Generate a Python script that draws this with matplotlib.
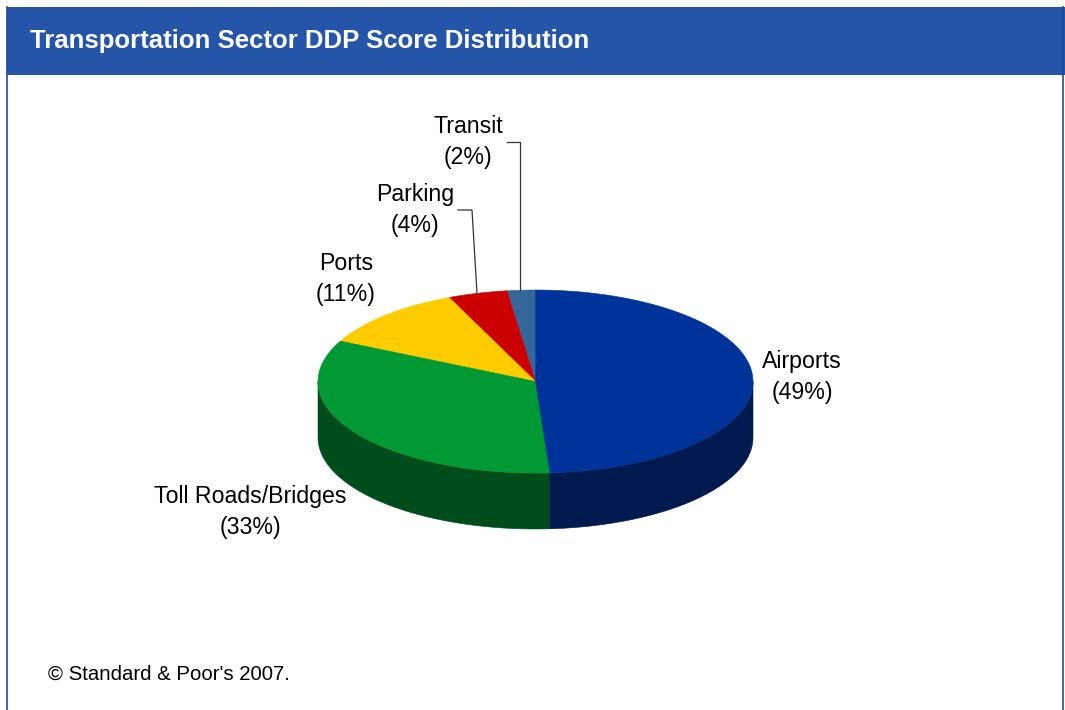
import numpy as np
import matplotlib
matplotlib.use("Agg")
import matplotlib.pyplot as plt
from matplotlib.patches import Polygon, Rectangle

# data, in drawing order: counter-clockwise from 12 o'clock
# (shares; labels show the rounded value)
sectors = ["Transit", "Parking", "Ports", "Toll Roads/Bridges", "Airports"]
shares = [2.1, 4.4, 11.2, 33.3, 48.9]
top_colors = ["#336699", "#CC0000", "#FFCC00", "#009933", "#003399"]
side_colors = ["#1f3d5c", "#7a0000", "#997a00", "#004C1A", "#001A4F"]

plt.rcParams["font.family"] = ["Liberation Sans", "DejaVu Sans"]

W, H = 1065, 710
fig = plt.figure(figsize=(W / 100, H / 100), dpi=100)
ax = fig.add_axes([0, 0, 1, 1])
ax.set_xlim(0, W)
ax.set_ylim(H, 0)
ax.axis("off")

# frame + header band
ax.add_patch(Rectangle((7, 7), W - 7, 68, facecolor="#2455A8", edgecolor="none"))
ax.plot([7, 7], [7, H], color="#1f4a9a", lw=1.2)
ax.plot([1063, 1063], [7, H], color="#1f4a9a", lw=1.2)
ax.text(30, 41, "Transportation Sector DDP Score Distribution", color="white",
        fontsize=18.5, fontweight="bold", va="center", ha="left")
ax.text(48, 674, "\u00a9 Standard & Poor's 2007.", fontsize=14.7, va="center", ha="left")

# pseudo 3D pie geometry (pixels)
cx, cy, a, b, depth = 535.5, 381.5, 217.5, 91.5, 56


def pt(t, dy=0):
    return cx - a * np.sin(t), cy - b * np.cos(t) + dy


bounds = np.concatenate([[0], np.cumsum(shares)]) / np.sum(shares) * 2 * np.pi

# side walls (only the front half, t in [pi/2, 3pi/2])
for i in range(len(shares)):
    t1, t2 = max(bounds[i], np.pi / 2), min(bounds[i + 1], 3 * np.pi / 2)
    if t2 <= t1:
        continue
    t = np.linspace(t1, t2, 120)
    xs, ys = pt(t)
    xb, yb = pt(t[::-1], depth)
    poly = np.column_stack([np.concatenate([xs, xb]), np.concatenate([ys, yb])])
    ax.add_patch(Polygon(poly, closed=True, facecolor=side_colors[i],
                         edgecolor=side_colors[i], lw=0.4))

# top faces
for i in range(len(shares)):
    t = np.linspace(bounds[i], bounds[i + 1], 200)
    xs, ys = pt(t)
    poly = np.column_stack([np.concatenate([[cx], xs]), np.concatenate([[cy], ys])])
    ax.add_patch(Polygon(poly, closed=True, facecolor=top_colors[i],
                         edgecolor=top_colors[i], lw=0.4))

# labels
label_pos = {
    "Transit": (468, 142),
    "Parking": (415, 210),
    "Ports": (346, 279),
    "Toll Roads/Bridges": (250, 512),
    "Airports": (802, 377),
}
for name, val in zip(sectors, shares):
    x, y = label_pos[name]
    ax.text(x, y, f"{name}\n({val:.0f}%)", fontsize=16.7, ha="center", va="center",
            linespacing=1.42)

# leader lines
ax.plot([507, 520, 520], [142, 142, 290], color="#333333", lw=0.9)
ax.plot([458, 472, 477], [210, 210, 293], color="#333333", lw=0.9)

fig.savefig("out.png", dpi=100)
